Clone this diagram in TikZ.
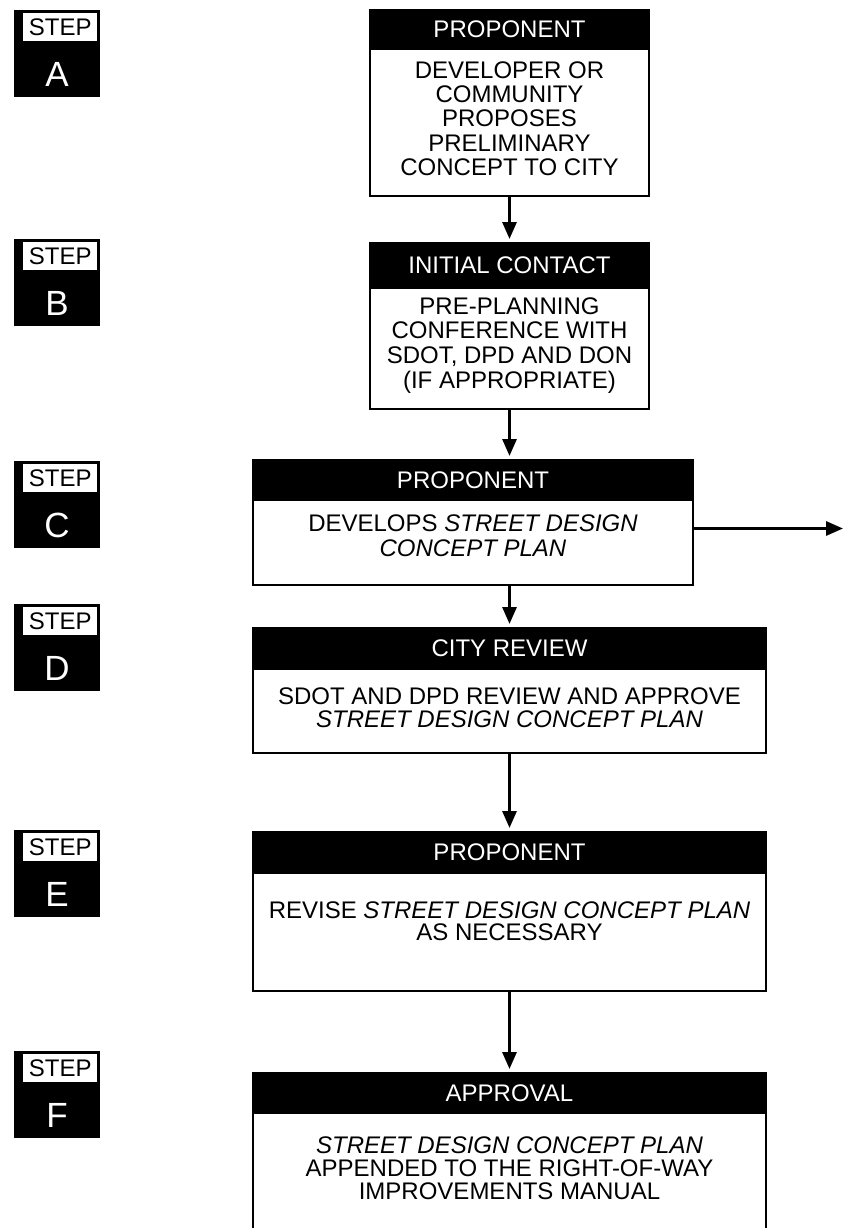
\documentclass[tikz,border=0pt]{standalone}
\usepackage{fontspec}
\setmainfont{Liberation Sans}
\usetikzlibrary{arrows.meta}
\begin{document}
\begin{tikzpicture}[x=1pt,y=-1pt,
  frame/.style={draw=black, line width=2.5pt, fill=white, anchor=north west, inner sep=0pt, outer sep=0pt},
  head/.style={draw=black, line width=2.5pt, fill=black, text=white, anchor=north west, inner sep=0pt, outer sep=0pt,
    font=\fontsize{24}{24}\selectfont},
  body/.style={align=center, inner sep=0pt, font=\fontsize{24}{24.3}\selectfont},
  stepblk/.style={fill=black, anchor=north west, inner sep=0pt, minimum width=86pt, minimum height=87pt},
  stepwht/.style={fill=white, anchor=north west, inner sep=0pt, minimum width=74pt, minimum height=28pt,
    font=\fontsize{24}{24}\selectfont},
  steplet/.style={text=white, inner sep=0pt, font=\fontsize{35}{35}\selectfont},
  arr/.style={line width=3pt, -{Triangle[width=14pt,length=17pt]}, shorten >=4pt}
]
\useasboundingbox (0,0) rectangle (843,1228);
\clip (0,0) rectangle (843,1228);
\fill[white] (0,0) rectangle (843,1228);

% ---------- step labels ----------
\foreach \L/\Y in {A/10,B/239,C/461,D/604,E/830,F/1051}{
  \node[stepblk] (step\L) at (14,\Y) {};
  \node[stepwht] (stepw\L) at (23,\Y+3) {STEP};
  \node[steplet] (stepl\L) at (57,\Y+64) {\L};
}

% ---------- box A ----------
\node[frame, minimum width=279pt, minimum height=186pt] (bA) at (370,10) {};
\node[head, minimum width=279pt, minimum height=39pt] (hA) at (370,10) {PROPONENT};
\node[body] (tA) at (509.5,118.6) {DEVELOPER OR\\COMMUNITY\\PROPOSES\\PRELIMINARY\\CONCEPT TO CITY};

% ---------- box B ----------
\node[frame, minimum width=279pt, minimum height=166pt] (bB) at (370,243) {};
\node[head, minimum width=279pt, minimum height=45pt] (hB) at (370,243) {INITIAL CONTACT};
\node[body, font=\fontsize{24}{24.8}\selectfont] (tB) at (509.5,345.5) {PRE-PLANNING\\CONFERENCE WITH\\SDOT, DPD AND DON\\(IF APPROPRIATE)};

% ---------- box C ----------
\node[frame, minimum width=440pt, minimum height=125pt] (bC) at (253,460) {};
\node[head, minimum width=440pt, minimum height=40pt] (hC) at (253,460) {PROPONENT};
\node[body, font=\fontsize{24}{25}\selectfont] (tC) at (473,536) {DEVELOPS \textit{STREET DESIGN}\\\textit{CONCEPT PLAN}};

% ---------- box D ----------
\node[frame, minimum width=513pt, minimum height=125pt] (bD) at (253,628) {};
\node[head, minimum width=513pt, minimum height=41pt] (hD) at (253,628) {CITY REVIEW};
\node[body, font=\fontsize{24}{23.4}\selectfont] (tD) at (509.5,708) {SDOT AND DPD REVIEW AND APPROVE\\\textit{STREET DESIGN CONCEPT PLAN}};

% ---------- box E ----------
\node[frame, minimum width=513pt, minimum height=159pt] (bE) at (253,832) {};
\node[head, minimum width=513pt, minimum height=41pt] (hE) at (253,832) {PROPONENT};
\node[body, font=\fontsize{24}{22}\selectfont] (tE) at (509.5,921) {REVISE \textit{STREET DESIGN CONCEPT PLAN}\\AS NECESSARY};

% ---------- box F ----------
\node[frame, minimum width=513pt, minimum height=180pt] (bF) at (253,1073) {};
\node[head, minimum width=513pt, minimum height=40pt] (hF) at (253,1073) {APPROVAL};
\node[body, font=\fontsize{24}{23}\selectfont] (tF) at (509.5,1168) {\textit{STREET DESIGN CONCEPT PLAN}\\APPENDED TO THE RIGHT-OF-WAY\\IMPROVEMENTS MANUAL};

% ---------- connectors ----------
\coordinate (out) at (843,528.5);
\draw[arr] (bA.south) -- (bB.north);
\draw[arr] (bB.south) -- (bB.south |- bC.north);
\draw[arr] (bB.south |- bC.south) -- (bB.south |- bD.north);
\draw[arr] (bD.south) -- (bE.north);
\draw[arr] (bE.south) -- (bF.north);
\draw[arr, shorten >=0pt] (bC.east |- out) -- (out);
\end{tikzpicture}
\end{document}
